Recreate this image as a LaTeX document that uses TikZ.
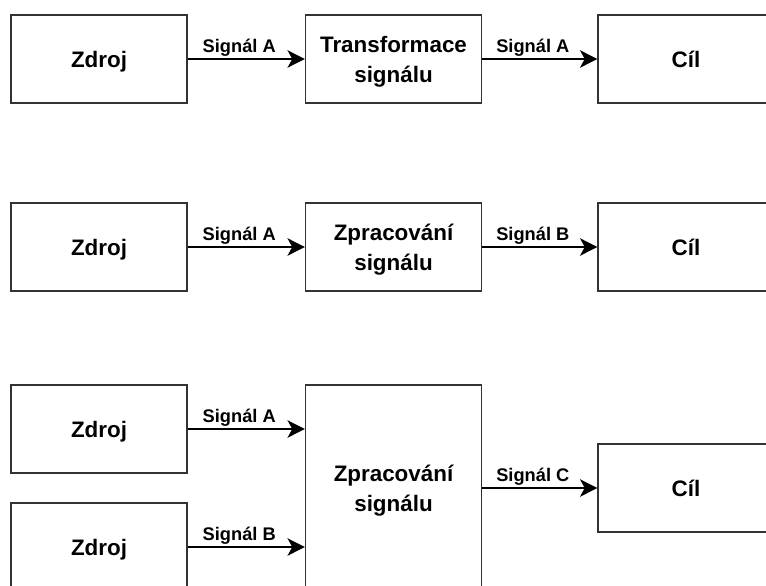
\documentclass[tikz,border=0pt]{standalone}
\usepackage{fontspec}
\setmainfont{Liberation Sans}
\usetikzlibrary{arrows.meta}
\definecolor{boxline}{HTML}{333333}
\begin{document}
\begin{tikzpicture}[x=0.75pt,y=-0.75pt,
  block/.style={draw=boxline, line width=0.9pt, fill=white, minimum width=132pt, minimum height=66pt,
    inner sep=0pt, align=center, text depth=0pt, font=\fontsize{16.8pt}{22.5pt}\selectfont\bfseries},
  conn/.style={line width=1.5pt, -{Stealth[length=13pt, width=13pt, inset=3.5pt]}},
  lbl/.style={pos=0.44, anchor=base, yshift=4.8pt, inner sep=0pt, font=\fontsize{13.7pt}{16pt}\selectfont\bfseries}]
\useasboundingbox (0,0) rectangle (766,585);
\clip (0,0) rectangle (766,585);
% row 1
\node[block] (z1) at (99,59) {Zdroj};
\node[block] (t1) at (393.5,59) {Transformace\\signálu};
\node[block] (c1) at (686,59) {Cíl};
\draw[conn] (z1.east) -- node[lbl] {Signál A} (t1.west);
\draw[conn] (t1.east) -- node[lbl] {Signál A} (c1.west);
% row 2
\node[block] (z2) at (99,247) {Zdroj};
\node[block] (p2) at (393.5,247) {Zpracování\\signálu};
\node[block] (c2) at (686,247) {Cíl};
\draw[conn] (z2.east) -- node[lbl] {Signál A} (p2.west);
\draw[conn] (p2.east) -- node[lbl] {Signál B} (c2.west);
% row 3
\node[block] (z3a) at (99,429) {Zdroj};
\node[block] (z3b) at (99,547) {Zdroj};
\node[block, minimum height=154.5pt] (p3) at (393.5,488) {Zpracování\\signálu};
\node[block] (c3) at (686,488) {Cíl};
\draw[conn] (z3a.east) -- node[lbl] {Signál A} (z3a.east -| p3.west);
\draw[conn] (z3b.east) -- node[lbl] {Signál B} (z3b.east -| p3.west);
\draw[conn] (p3.east) -- node[lbl] {Signál C} (c3.west);
\end{tikzpicture}
\end{document}
